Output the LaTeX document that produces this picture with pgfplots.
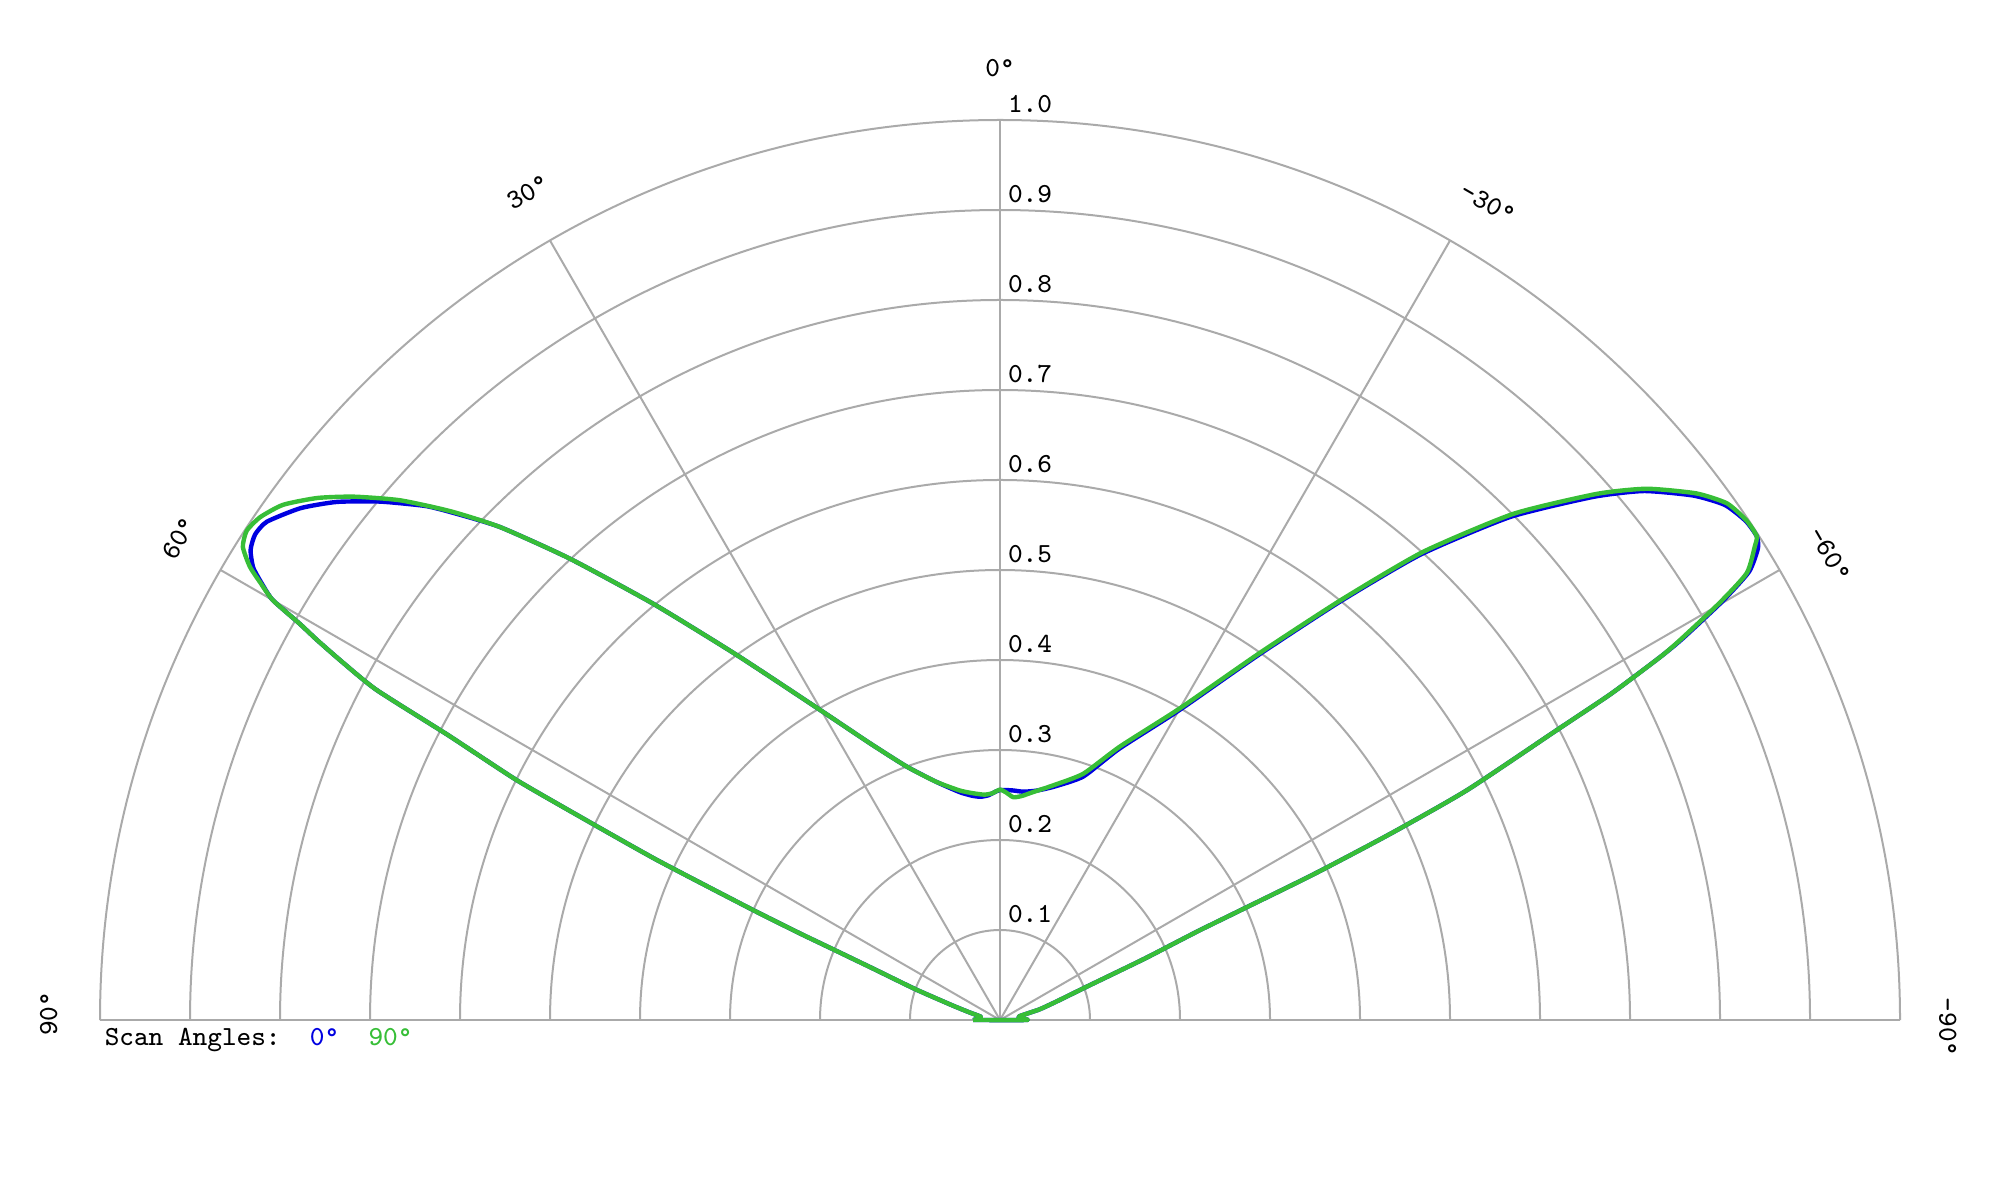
\documentclass[border=0pt]{standalone}
\usepackage{pgfplots}
\pgfplotsset{compat=1.18}
\usepackage{pgfplotstable}
\usepackage{fontspec}

\definecolor{gridc}{RGB}{170,170,170}
\definecolor{scanzero}{RGB}{0,0,225}
\definecolor{scanninety}{RGB}{55,190,55}

% chart angle a: 0 = broadside (top), +90 = left, -90 = right
\pgfplotstableread{
a r
90 0.030
85 0.022
80 0.022
76 0.035
73 0.055
70 0.100
68 0.150
67 0.205
66.6 0.242
66 0.300
65 0.420
64.2 0.514
63.6 0.600
62.7 0.690
62.1 0.784
61.4 0.835
60.9 0.869
60.5 0.894
60 0.933
59.5 0.950
58.8 0.970
57.9 0.983
56.9 0.988
55.8 0.985
53.8 0.963
52 0.935
50.1 0.898
48.2 0.857
47.2 0.830
45.4 0.780
43 0.701
39.8 0.602
35.8 0.500
30.1 0.398
25.2 0.340
20.2 0.300
15 0.274
10 0.257
7 0.251
5 0.249
3 0.250
1 0.254
0 0.2556
-3 0.2555
-5.8 0.255
-9 0.258
-13 0.266
-18.9 0.286
-23.7 0.329
-30 0.397
-35.3 0.497
-39.1 0.599
-42.1 0.697
-45.4 0.796
-48.6 0.879
-50.6 0.926
-52.9 0.966
-54.6 0.988
-56.2 0.997
-57.4 0.998
-58.1 0.992
-59.1 0.970
-59.9 0.928
-60.8 0.869
-61.2 0.837
-61.9 0.770
-62.5 0.697
-63.8 0.578
-64.5 0.480
-65.1 0.380
-65.8 0.244
-67 0.175
-69 0.103
-72 0.065
-75 0.045
-79 0.022
-85 0.022
-90 0.030
90 0.030
}\scanzero

\pgfplotstableread{
a r
90 0.030
85 0.022
80 0.022
76 0.035
73 0.055
70 0.100
68 0.150
67 0.205
66.6 0.242
66 0.300
65 0.420
64.2 0.514
63.6 0.600
62.7 0.690
62.1 0.784
61.4 0.835
60.9 0.869
60.5 0.894
60 0.933
59.4 0.955
58.85 0.974
58 0.992
57 0.998
55.8 0.994
54.3 0.981
52.6 0.955
51 0.924
49.1 0.882
47.2 0.832
45.4 0.780
43 0.701
39.8 0.602
35.8 0.500
30.1 0.398
25.2 0.340
20.2 0.300
15 0.274
10 0.259
7 0.254
4 0.251
2 0.252
0 0.256
-1.5 0.253
-3.4 0.248
-5.5 0.250
-8.3 0.256
-13 0.268
-18.7 0.289
-23.7 0.332
-30 0.400
-35.3 0.500
-39.1 0.602
-42.1 0.701
-45.4 0.801
-48.6 0.884
-50.6 0.930
-52.9 0.970
-54.6 0.991
-56.2 0.998
-57.4 0.998
-57.9 0.990
-59.1 0.967
-59.9 0.924
-60.8 0.866
-61.2 0.837
-61.9 0.770
-62.5 0.697
-63.8 0.578
-64.5 0.480
-65.1 0.380
-65.8 0.244
-67 0.175
-69 0.103
-72 0.065
-75 0.045
-79 0.022
-85 0.022
-90 0.030
90 0.030
}\scanninety

\begin{document}
\begin{tikzpicture}
\begin{axis}[
    hide axis,
    x=225pt, y=225pt,
    xmin=-1.11111, xmax=1.11111,
    ymin=-0.2, ymax=1.13333,
    clip=false,
    font=\ttfamily\fontsize{6.9}{8}\selectfont,
]
    % page frame
    \path (axis cs:-1.11111,-0.2) rectangle (axis cs:1.11111,1.13333);

    % rings
    \pgfplotsinvokeforeach{0.1,0.2,0.3,0.4,0.5,0.6,0.7,0.8,0.9,1.0}{
        \draw[gridc, line width=0.5pt] (axis cs:#1,0) arc[start angle=0, end angle=180, radius=#1*225pt];
        \node[anchor=base west, inner sep=0pt, yshift=1.8pt] at (axis cs:0.008,#1) {#1};
    }
    % spokes
    \pgfplotsinvokeforeach{30,60,90,120,150}{
        \draw[gridc, line width=0.5pt] (axis cs:0,0) -- (axis cs:{cos(#1)},{sin(#1)});
    }
    \draw[gridc, line width=0.5pt] (axis cs:-1,0) -- (axis cs:1,0);

    % angle labels
    \node[rotate=0] at (axis cs:0,1.058) {0°};
    \node[rotate=30] at (axis cs:{1.059*cos(119.7)},{1.059*sin(119.7)}) {30°};
    \node[rotate=60] at (axis cs:{1.058*cos(149.6)},{1.058*sin(149.6)}) {60°};
    \node[rotate=90] at (axis cs:-1.057,0.007) {90°};
    \node[rotate=-30] at (axis cs:{1.057*cos(59.15)},{1.057*sin(59.15)}) {-30°};
    \node[rotate=-60] at (axis cs:{1.057*cos(29.3)},{1.057*sin(29.3)}) {-60°};
    \node[rotate=-90] at (axis cs:1.053,-0.008) {-90°};

    \addplot[scanzero, line width=1.1pt, line join=round, smooth, tension=0.35, data cs=polar]
        table[x expr=\thisrow{a}+90, y=r] {\scanzero};
    \addplot[scanninety, line width=1.1pt, line join=round, smooth, tension=0.35, data cs=polar]
        table[x expr=\thisrow{a}+90, y=r] {\scanninety};

    \node[anchor=base west, inner sep=0pt] at (axis cs:-0.9956,-0.0278)
        {Scan\ Angles:\ \ \textcolor{scanzero}{0°}\ \ \textcolor{scanninety}{90°}};
\end{axis}
\end{tikzpicture}
\end{document}
